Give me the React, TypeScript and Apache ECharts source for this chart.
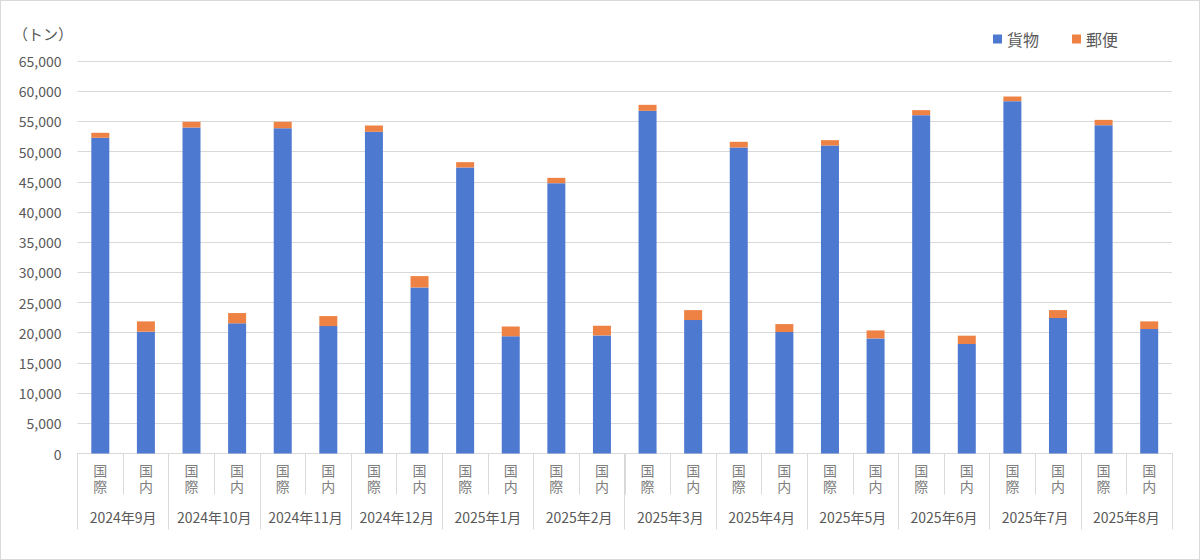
import React, { useEffect, useRef } from "react";
import * as echarts from "echarts";

const months = [
  "2024年9月", "2024年10月", "2024年11月", "2024年12月",
  "2025年1月", "2025年2月", "2025年3月", "2025年4月",
  "2025年5月", "2025年6月", "2025年7月", "2025年8月",
];
const segments = ["国際", "国内"];
const seriesNames = ["貨物", "郵便"];
const yTicks = { min: 0, max: 65000, interval: 5000 };

// values per category (month × segment), in order 国際, 国内
const cargo = [
  52290, 20170, 53990, 21550, 53870, 21100, 53280, 27500,
  47370, 19400, 44770, 19560, 56750, 22100, 50680, 20110,
  51010, 19060, 56030, 18130, 58350, 22430, 54370, 20610,
];
const mail = [
  820, 1710, 940, 1710, 1060, 1660, 1040, 1880,
  880, 1650, 880, 1600, 990, 1650, 940, 1320,
  880, 1320, 830, 1380, 770, 1320, 880, 1270,
];

const FONT = "'Noto Sans CJK JP', 'Noto Sans', sans-serif";

export default function App() {
  const ref = useRef<HTMLDivElement>(null);
  useEffect(() => {
    document.body.style.margin = "0";
    if (!ref.current) return;
    const chart = echarts.init(ref.current, undefined, { renderer: "svg" });
    const categories: string[] = [];
    months.forEach(() => segments.forEach((s) => categories.push(s)));
    chart.setOption({
      animation: false,
      textStyle: { fontFamily: FONT },
      title: {
        text: "（トン）",
        left: 7,
        top: 20,
        textStyle: { fontFamily: FONT, fontSize: 15, fontWeight: "normal", color: "#595959" },
      },
      legend: {
        left: 987,
        top: 25,
        itemWidth: 9,
        itemHeight: 9,
        itemGap: 33,
        icon: "rect",
        textStyle: { fontFamily: FONT, fontSize: 16, color: "#595959" },
        data: seriesNames,
      },
      grid: { left: 76.5, right: 27, top: 60, bottom: 105.5, containLabel: false },
      xAxis: [
        {
          type: "category",
          data: categories,
          position: "bottom",
          axisLine: { show: true, lineStyle: { color: "#d9d9d9", width: 1 } },
          axisTick: { show: true, interval: 0, length: 41, lineStyle: { color: "#d9d9d9" } },
          axisLabel: {
            interval: 0,
            margin: 8,
            fontSize: 14,
            lineHeight: 16,
            color: "#7f7f7f",
            fontFamily: FONT,
            formatter: (v: string) => v.split("").join("\n"),
          },
        },
        {
          type: "category",
          data: months,
          position: "bottom",
          axisLine: { show: false },
          axisTick: { show: true, interval: 0, length: 76, lineStyle: { color: "#d9d9d9" } },
          axisLabel: {
            interval: 0,
            margin: 56,
            fontSize: 14,
            color: "#595959",
            fontFamily: FONT,
          },
        },
      ],
      yAxis: {
        type: "value",
        min: yTicks.min,
        max: yTicks.max,
        interval: yTicks.interval,
        axisLine: { show: false },
        axisTick: { show: false },
        splitLine: { lineStyle: { color: "#d9d9d9", width: 1 } },
        axisLabel: {
          margin: 16,
          fontSize: 14,
          color: "#595959",
          fontFamily: FONT,
          formatter: (v: number) => v.toLocaleString("en-US"),
        },
      },
      series: [
        {
          name: seriesNames[0],
          type: "bar",
          stack: "total",
          xAxisIndex: 0,
          barWidth: 18,
          itemStyle: { color: "#4E79D0" },
          data: cargo,
        },
        {
          name: seriesNames[1],
          type: "bar",
          stack: "total",
          xAxisIndex: 0,
          barWidth: 18,
          itemStyle: { color: "#EE8244" },
          data: mail,
        },
      ],
    });
    return () => chart.dispose();
  }, []);
  return (
    <div
      ref={ref}
      style={{
        width: 1200,
        height: 560,
        boxSizing: "border-box",
        border: "1px solid #d9d9d9",
        background: "#fff",
      }}
    />
  );
}
